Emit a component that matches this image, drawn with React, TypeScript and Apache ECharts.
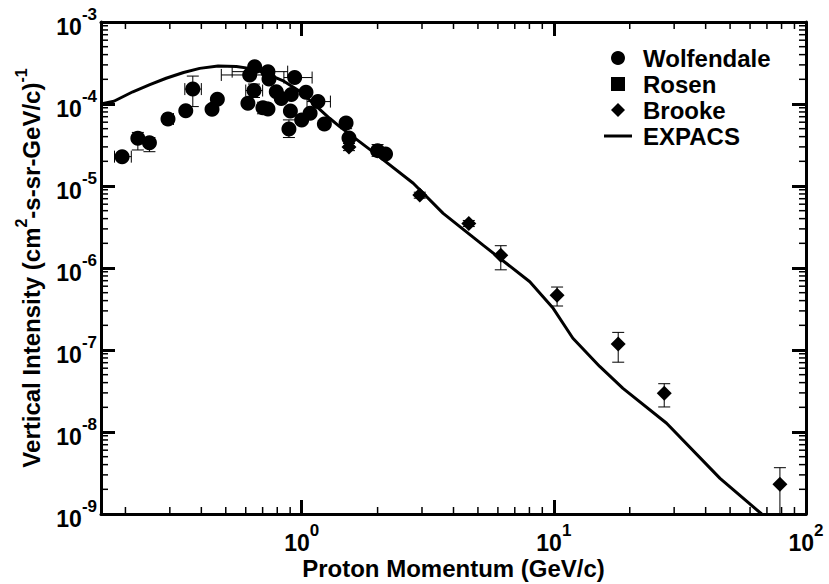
import React, { useEffect, useRef } from "react";
import * as echarts from "echarts";

// ---------- data ----------
// Wolfendale (circles)
const wolfP = [0.194, 0.224, 0.249, 0.295, 0.347, 0.37, 0.441, 0.463, 0.612, 0.622, 0.647, 0.651, 0.702, 0.735, 0.735, 0.742, 0.793, 0.83, 0.89, 0.902, 0.91, 0.938, 1.0, 1.04, 1.08, 1.16, 1.23, 1.5, 1.54, 2.0, 2.15];
const wolfI = [2.28e-5, 3.81e-5, 3.37e-5, 6.56e-5, 8.28e-5, 1.52e-4, 8.6e-5, 1.14e-4, 1.02e-4, 2.26e-4, 1.46e-4, 2.85e-4, 9.0e-5, 2.48e-4, 8.7e-5, 2.02e-4, 1.41e-4, 1.17e-4, 4.96e-5, 8.2e-5, 1.31e-4, 2.1e-4, 6.38e-5, 1.39e-4, 7.7e-5, 1.07e-4, 5.7e-5, 5.86e-5, 3.85e-5, 2.7e-5, 2.45e-5];
const wolfPLo = [0.181, null, null, 0.283, null, 0.344, null, null, null, 0.48, 0.6, null, null, 0.53, null, null, null, null, null, null, null, 0.85, null, null, null, 1.05, null, null, null, null, null];
const wolfPHi = [0.211, null, null, 0.31, null, 0.4, null, null, null, 0.78, 0.7, null, null, 0.88, null, null, null, null, null, null, null, 1.1, null, null, null, 1.3, null, null, null, null, null];
const wolfILo = [null, 2.75e-5, 2.62e-5, null, null, 9.3e-5, null, null, null, null, 1.2e-4, null, 7.6e-5, null, null, null, null, null, 3.9e-5, null, null, null, null, null, null, null, null, 5.0e-5, null, 2.3e-5, null];
const wolfIHi = [null, 4.5e-5, 3.9e-5, null, null, 2.19e-4, null, null, null, null, 1.75e-4, null, 1.05e-4, null, null, null, null, null, 6.4e-5, null, null, null, null, null, null, null, null, 6.6e-5, null, 3.2e-5, null];

// Rosen (squares) – no point distinguishable in the picture
const rosenP: number[] = [];
const rosenI: number[] = [];

// Brooke (diamonds)
const brookeP = [1.54, 2.94, 4.6, 6.16, 10.3, 18.0, 27.4, 78.8];
const brookeI = [3.0e-5, 7.76e-6, 3.5e-6, 1.43e-6, 4.64e-7, 1.18e-7, 2.96e-8, 2.3e-9];
const brookeILo = [2.7e-5, 7.1e-6, 3.2e-6, 9.5e-7, 3.44e-7, 7.1e-8, 2.02e-8, 8e-10];
const brookeIHi = [3.3e-5, 8.4e-6, 3.8e-6, 1.87e-6, 5.86e-7, 1.64e-7, 3.88e-8, 3.67e-9];

// EXPACS (line)
const expacsP = [0.16, 0.18, 0.214, 0.25, 0.29, 0.34, 0.394, 0.466, 0.551, 0.62, 0.7, 0.85, 1.0, 1.15, 1.29, 1.415, 2.0, 2.77, 3.64, 5.24, 8.03, 9.94, 11.9, 15.2, 18.8, 28.0, 45.6, 66.7, 72];
const expacsI = [1.0e-4, 1.08e-4, 1.41e-4, 1.72e-4, 2.06e-4, 2.42e-4, 2.72e-4, 2.9e-4, 2.87e-4, 2.72e-4, 2.45e-4, 1.9e-4, 1.38e-4, 9.2e-5, 6.7e-5, 5.3e-5, 2.36e-5, 1.08e-5, 4.64e-6, 1.9e-6, 6.8e-7, 3.22e-7, 1.39e-7, 6.3e-8, 3.41e-8, 1.28e-8, 2.72e-9, 1.0e-9, 8.2e-10];

// axes
const xMin = 0.16;
const xMax = 100;
const yMin = 1e-9;
const yMax = 1e-3;
const xDecades = [-1, 0, 1];
const yDecades = [-9, -8, -7, -6, -5, -4];
const minorMultipliers = [2, 3, 4, 5, 6, 7, 8, 9];

const legendNames = ["Wolfendale", "Rosen", "Brooke", "EXPACS"];

const FONT = '"Liberation Sans", Arial, Helvetica, sans-serif';

function powLabel(v: number): string {
  const e = Math.log10(v);
  const r = Math.round(e);
  if (Math.abs(e - r) > 1e-6) return "";
  return `{b|10}{s|${r}}`;
}

const labelRich = {
  b: { fontSize: 23, fontWeight: "bold", fontFamily: FONT, color: "#000", lineHeight: 32, verticalAlign: "bottom" },
  s: { fontSize: 17, fontWeight: "bold", fontFamily: FONT, color: "#000", verticalAlign: "top" },
};

function buildErrRows(p: number[], v: number[], pLo: (number | null)[], pHi: (number | null)[], iLo: (number | null)[], iHi: (number | null)[]) {
  return p.map((x, i) => [x, v[i], pLo[i] ?? -1, pHi[i] ?? -1, iLo[i] ?? -1, iHi[i] ?? -1]);
}

export default function App() {
  const ref = useRef<HTMLDivElement>(null);

  useEffect(() => {
    document.body.style.margin = "0";
    if (!ref.current) return;
    const chart = echarts.init(ref.current, undefined, { renderer: "svg" });

    const xMinor: number[] = [];
    xDecades.forEach((k) => minorMultipliers.forEach((m) => {
      const v = m * Math.pow(10, k);
      if (v > xMin && v < xMax) xMinor.push(v);
    }));
    const yMinor: number[] = [];
    yDecades.forEach((k) => minorMultipliers.forEach((m) => {
      const v = m * Math.pow(10, k);
      if (v > yMin && v < yMax) yMinor.push(v);
    }));

    const errRows = [
      ...buildErrRows(wolfP, wolfI, wolfPLo, wolfPHi, wolfILo, wolfIHi),
      ...buildErrRows(brookeP, brookeI, brookeP.map(() => null), brookeP.map(() => null), brookeILo, brookeIHi),
    ];

    const lineStyle = { stroke: "#000", lineWidth: 1 };
    const cap = 6;

    const axisLineStyle = { show: true, lineStyle: { color: "#000", width: 3 } };
    const majorTick = { show: true, inside: true, length: 14, lineStyle: { color: "#000", width: 3 } };

    const legendIcons: Record<string, string> = {
      Wolfendale: "circle",
      Rosen: "path://M0,0h12v12h-12z",
      Brooke: "path://M7,0L14,7L7,14L0,7Z",
      EXPACS: "path://M0,0h28v3h-28z",
    };

    const option: any = {
      animation: false,
      backgroundColor: "#fff",
      grid: { left: 101, right: 23, top: 22, bottom: 70, containLabel: false, outerBoundsMode: "none" },
      legend: {
        left: 599,
        top: 41,
        orient: "vertical",
        itemWidth: 28,
        itemHeight: 14,
        itemGap: 2,
        selectedMode: false,
        symbolKeepAspect: true,
        data: legendNames.map((n) => ({ name: n, icon: legendIcons[n] })),
        textStyle: { fontFamily: FONT, fontWeight: "bold", fontSize: 24, color: "#000", lineHeight: 24, padding: [0, 0, 0, 6] },
      },
      xAxis: [
        {
          type: "log",
          logBase: 10,
          min: xMin,
          max: xMax,
          position: "bottom",
          axisLine: axisLineStyle,
          axisTick: majorTick,
          splitLine: { show: false },
          axisLabel: { formatter: powLabel, rich: labelRich, margin: 8 },
          name: "Proton Momentum (GeV/c)",
          nameLocation: "middle",
          nameGap: 42,
          nameMoveOverlap: false,
          nameTextStyle: { fontFamily: FONT, fontWeight: "bold", fontSize: 24, color: "#000" },
        },
        {
          type: "log",
          logBase: 10,
          min: xMin,
          max: xMax,
          position: "top",
          axisLine: axisLineStyle,
          axisTick: majorTick,
          splitLine: { show: false },
          axisLabel: { show: false },
        },
      ],
      yAxis: [
        {
          type: "log",
          logBase: 10,
          min: yMin,
          max: yMax,
          position: "left",
          axisLine: axisLineStyle,
          axisTick: majorTick,
          splitLine: { show: false },
          axisLabel: { formatter: powLabel, rich: labelRich, margin: 4 },
          name: "{m|Vertical Intensity (cm}{s|2}{m|-s-sr-GeV/c)}{s|-1}",
          nameLocation: "middle",
          nameGap: 58,
          nameMoveOverlap: false,
          nameTextStyle: {
            rich: {
              m: { fontFamily: FONT, fontWeight: "bold", fontSize: 24, color: "#000", lineHeight: 30, verticalAlign: "bottom" },
              s: { fontFamily: FONT, fontWeight: "bold", fontSize: 16, color: "#000", verticalAlign: "top" },
            },
          },
        },
        {
          type: "log",
          logBase: 10,
          min: yMin,
          max: yMax,
          position: "right",
          axisLine: axisLineStyle,
          axisTick: majorTick,
          splitLine: { show: false },
          axisLabel: { show: false },
        },
      ],
      series: [
        {
          name: "errorbars",
          type: "custom",
          coordinateSystem: "cartesian2d",
          clip: true,
          silent: true,
          z: 1,
          encode: { x: 0, y: 1 },
          data: errRows,
          renderItem: (params: any, api: any) => {
            const x = api.value(0);
            const y = api.value(1);
            const c = api.coord([x, y]);
            const children: any[] = [];
            const ylo = api.value(4);
            const yhi = api.value(5);
            if (ylo > 0 && yhi > 0) {
              const lo = api.coord([x, ylo]);
              const hi = api.coord([x, yhi]);
              children.push({ type: "line", shape: { x1: c[0], y1: lo[1], x2: c[0], y2: hi[1] }, style: lineStyle });
              children.push({ type: "line", shape: { x1: c[0] - cap, y1: lo[1], x2: c[0] + cap, y2: lo[1] }, style: lineStyle });
              children.push({ type: "line", shape: { x1: c[0] - cap, y1: hi[1], x2: c[0] + cap, y2: hi[1] }, style: lineStyle });
            }
            const xlo = api.value(2);
            const xhi = api.value(3);
            if (xlo > 0 && xhi > 0) {
              const l = api.coord([xlo, y]);
              const r = api.coord([xhi, y]);
              children.push({ type: "line", shape: { x1: l[0], y1: c[1], x2: r[0], y2: c[1] }, style: lineStyle });
              children.push({ type: "line", shape: { x1: l[0], y1: c[1] - cap, x2: l[0], y2: c[1] + cap }, style: lineStyle });
              children.push({ type: "line", shape: { x1: r[0], y1: c[1] - cap, x2: r[0], y2: c[1] + cap }, style: lineStyle });
            }
            return { type: "group", children };
          },
        },
        {
          name: "Wolfendale",
          type: "scatter",
          symbol: "circle",
          symbolSize: 15,
          z: 2,
          itemStyle: { color: "#000", opacity: 1 },
          data: wolfP.map((p, i) => [p, wolfI[i]]),
        },
        {
          name: "Rosen",
          type: "scatter",
          symbol: "rect",
          symbolSize: 13,
          z: 2,
          itemStyle: { color: "#000", opacity: 1 },
          data: rosenP.map((p, i) => [p, rosenI[i]]),
        },
        {
          name: "Brooke",
          type: "scatter",
          symbol: "diamond",
          symbolSize: 15,
          z: 2,
          itemStyle: { color: "#000", opacity: 1 },
          data: brookeP.map((p, i) => [p, brookeI[i]]),
        },
        {
          name: "EXPACS",
          type: "line",
          symbol: "none",
          showSymbol: false,
          clip: true,
          z: 3,
          color: "#000",
          itemStyle: { color: "#000" },
          lineStyle: { color: "#000", width: 3 },
          data: expacsP.map((p, i) => [p, expacsI[i]]),
        },
        {
          name: "xMinorTicks",
          type: "custom",
          coordinateSystem: "cartesian2d",
          clip: false,
          silent: true,
          z: 4,
          encode: { x: 0, y: 1 },
          data: xMinor.map((v) => [v, 1e-6]),
          renderItem: (params: any, api: any) => {
            const x = api.coord([api.value(0), api.value(1)])[0];
            const cs = params.coordSys;
            const b = cs.y + cs.height;
            const st = { stroke: "#000", lineWidth: 1.5 };
            return {
              type: "group",
              children: [
                { type: "line", shape: { x1: x, y1: b, x2: x, y2: b - 7 }, style: st },
                { type: "line", shape: { x1: x, y1: cs.y, x2: x, y2: cs.y + 7 }, style: st },
              ],
            };
          },
        },
        {
          name: "yMinorTicks",
          type: "custom",
          coordinateSystem: "cartesian2d",
          clip: false,
          silent: true,
          z: 4,
          encode: { x: 0, y: 1 },
          data: yMinor.map((v) => [1, v]),
          renderItem: (params: any, api: any) => {
            const y = api.coord([api.value(0), api.value(1)])[1];
            const cs = params.coordSys;
            const r = cs.x + cs.width;
            const st = { stroke: "#000", lineWidth: 1.5 };
            return {
              type: "group",
              children: [
                { type: "line", shape: { x1: cs.x, y1: y, x2: cs.x + 7, y2: y }, style: st },
                { type: "line", shape: { x1: r, y1: y, x2: r - 7, y2: y }, style: st },
              ],
            };
          },
        },
      ],
    };

    chart.setOption(option);
    return () => chart.dispose();
  }, []);

  return <div ref={ref} style={{ width: 829, height: 584 }} />;
}
